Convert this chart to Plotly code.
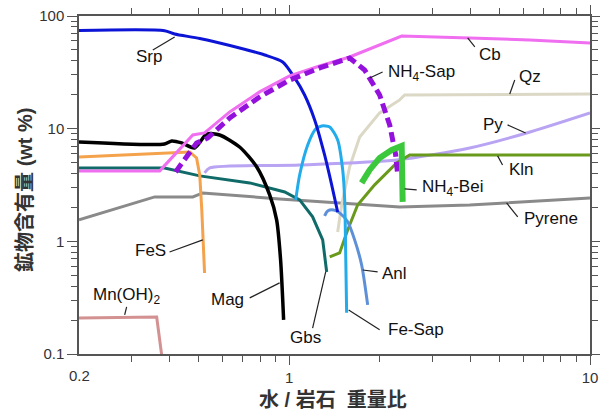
import numpy as np
import plotly.graph_objects as go

# Water/rock mass ratio (x) and mineral content in wt% (y) for each phase
srp_x = [0.2, 0.385, 0.416, 0.504, 0.684, 0.829, 0.951, 1.043, 1.125, 1.215, 1.311, 1.384, 1.449]
srp_y = [74.3, 74.0, 69.2, 63.1, 52.0, 45.1, 39.1, 28.2, 19.9, 11.95, 5.84, 3.17, 1.82]

cb_x = [0.2, 0.371, 0.478, 0.523, 0.634, 0.797, 1.003, 1.262, 1.588, 2.365, 3.98, 6.30, 10.0]
cb_y = [4.22, 4.22, 8.79, 9.16, 14.07, 21.2, 29.4, 36.0, 43.3, 66.4, 63.8, 61.2, 57.6]

nh4sap_x = [0.419, 0.492, 0.536, 0.634, 0.797, 1.003, 1.262, 1.588, 1.781, 1.998, 2.158, 2.259, 2.294]
nh4sap_y = [4.13, 7.47, 8.27, 12.45, 19.1, 27.0, 34.6, 42.4, 33.2, 19.9, 10.8, 5.84, 3.88]

qz_x = [1.449, 1.494, 1.588, 1.715, 1.998, 2.329, 2.42, 10.0]
qz_y = [1.21, 2.10, 4.57, 8.44, 13.8, 18.0, 19.9, 20.3]

py_x = [0.523, 0.544, 1.083, 2.276, 3.98, 6.16, 10.0]
py_y = [4.05, 4.48, 4.76, 5.28, 6.74, 9.16, 13.8]

kln_x = [1.363, 1.471, 1.564, 1.688, 1.923, 2.276, 2.514, 10.0]
kln_y = [0.727, 0.789, 1.26, 2.10, 3.17, 4.96, 5.84, 5.84]

nh4bei_x = [1.741, 1.851, 1.998, 2.191, 2.365, 2.383]
nh4bei_y = [3.30, 4.30, 5.50, 6.47, 7.02, 2.24]

pyrene_x = [0.2, 0.357, 0.478, 0.516, 0.929, 1.588, 2.329, 3.98, 10.0]
pyrene_y = [1.55, 2.48, 2.48, 2.69, 2.38, 2.15, 2.02, 2.10, 2.43]

mag_x = [0.2, 0.385, 0.407, 0.439, 0.485, 0.532, 0.587, 0.684, 0.780, 0.861, 0.908, 0.936, 0.958]
mag_y = [7.62, 7.31, 7.78, 7.47, 6.74, 8.97, 8.79, 6.88, 4.57, 2.58, 1.55, 0.684, 0.201]

fes_x = [0.2, 0.467, 0.492, 0.504, 0.512, 0.523]
fes_y = [5.61, 6.21, 5.50, 3.88, 1.90, 0.524]

gbs_x = [0.2, 0.385, 0.504, 0.739, 0.966, 1.083, 1.196, 1.292, 1.332]
gbs_y = [4.48, 4.48, 3.81, 3.30, 2.74, 2.33, 1.65, 1.03, 0.535]

fesap_x = [1.051, 1.083, 1.152, 1.224, 1.282, 1.363, 1.449, 1.506, 1.529, 1.540, 1.552]
fesap_y = [2.33, 3.88, 7.17, 9.94, 10.57, 10.35, 7.94, 4.30, 2.33, 0.839, 0.232]

anl_x = [1.311, 1.342, 1.405, 1.471, 1.564, 1.650, 1.741, 1.823]
anl_y = [1.68, 1.86, 1.90, 1.79, 1.49, 1.03, 0.617, 0.273]

mnoh2_x = [0.2, 0.3625, 0.3766]
mnoh2_y = [0.209, 0.213, 0.098]

x_major = [1, 10]
x_major_text = ["1", "10"]
x_minor = [0.3, 0.4, 0.5, 0.6, 0.7, 0.8, 0.9, 2, 3, 4, 5, 6, 7, 8, 9]
y_major = [0.1, 1, 10, 100]
y_major_text = ["0.1", "1", "10", "100"]
y_minor = [v * d for d in (0.1, 1, 10) for v in range(2, 10)]

# name, x, y, colour, width, dash, smooth curve
series = [
    ("Mn(OH)2", mnoh2_x, mnoh2_y, "#d39191", 3, None, False),
    ("Pyrene", pyrene_x, pyrene_y, "#8a8a8a", 3, None, False),
    ("Qz", qz_x, qz_y, "#dcd8c6", 3, None, False),
    ("Py", py_x, py_y, "#b9a3f3", 3, None, True),
    ("Gbs", gbs_x, gbs_y, "#0f6a68", 3, None, False),
    ("FeS", fes_x, fes_y, "#f4a24c", 3, None, False),
    ("Mag", mag_x, mag_y, "#000000", 3.5, None, True),
    ("Kln", kln_x, kln_y, "#6a9a1c", 3, None, False),
    ("Anl", anl_x, anl_y, "#5d90d8", 3, None, True),
    ("Fe-Sap", fesap_x, fesap_y, "#22acec", 3, None, True),
    ("Srp", srp_x, srp_y, "#0c14d6", 3, None, True),
    ("Cb", cb_x, cb_y, "#f06ef0", 3, None, False),
    ("NH4-Sap", nh4sap_x, nh4sap_y, "#9410dc", 5, "10px,5px", False),
    ("NH4-Bei", nh4bei_x, nh4bei_y, "#3cc83c", 6, None, False),
]

fig = go.Figure()
for name, xs, ys, color, width, dash, smooth in series:
    line = dict(color=color, width=width)
    if dash:
        line["dash"] = dash
    if smooth:
        line["shape"] = "spline"
        line["smoothing"] = 0.7
    fig.add_trace(go.Scatter(x=xs, y=ys, mode="lines", name=name, line=line,
                             hoverinfo="skip", showlegend=False))

# Text labels (data coordinates) and their leader lines
labels = [
    ("Srp", 0.341, 43.3, [(0.352, 49.9), (0.416, 65.1)]),
    ("Cb", 4.64, 45.1, [(3.92, 63.8), (4.14, 53.1)]),
    ("NH<sub>4</sub>-Sap", 2.756, 31.2, [(1.851, 28.2), (2.044, 31.8)]),
    ("Qz", 6.30, 28.8, [(5.41, 20.3), (5.62, 27.0)]),
    ("Py", 4.75, 11.0, [(5.32, 10.8), (6.11, 9.16)]),
    ("Kln", 5.93, 4.30, [(4.93, 5.73), (5.12, 4.76)]),
    ("NH<sub>4</sub>-Bei", 3.49, 2.98, [(2.42, 2.92), (2.653, 2.86)]),
    ("Pyrene", 7.40, 1.61, [(5.28, 2.19), (5.75, 1.65)]),
    ("FeS", 0.346, 0.822, [(0.400, 0.805), (0.516, 1.03)]),
    ("Mn(OH)<sub>2</sub>", 0.288, 0.328, [(0.2837, 0.222), (0.288, 0.262)]),
    ("Mag", 0.624, 0.302, [(0.739, 0.315), (0.929, 0.428)]),
    ("Gbs", 1.134, 0.139, [(1.196, 0.170), (1.322, 0.535)]),
    ("Anl", 2.241, 0.514, [(1.755, 0.557), (1.968, 0.535)]),
    ("Fe-Sap", 2.633, 0.164, [(1.576, 0.246), (1.998, 0.164)]),
]

label_font = dict(family="Liberation Sans, Arial, sans-serif", size=17, color="#111111")
for text, lx, ly, leader in labels:
    fig.add_trace(go.Scatter(x=[p[0] for p in leader], y=[p[1] for p in leader],
                             mode="lines", line=dict(color="#222222", width=1.2),
                             hoverinfo="skip", showlegend=False))
    fig.add_annotation(x=np.log10(lx), y=np.log10(ly), text=text, showarrow=False,
                       xanchor="center", yanchor="middle", font=label_font)

tick_font = dict(family="Liberation Sans, Arial, sans-serif", size=15, color="#333333")
axis_color = "#555555"

fig.update_xaxes(
    type="log", range=[np.log10(0.2), 1], tickvals=x_major, ticktext=x_major_text,
    ticks="outside", ticklen=9, tickwidth=1.3, tickcolor=axis_color,
    minor=dict(tickmode="array", tickvals=x_minor, ticks="outside", ticklen=6,
               tickwidth=1.2, tickcolor=axis_color, showgrid=False),
    showline=True, linecolor=axis_color, linewidth=1.5, mirror="allticks",
    showgrid=False, zeroline=False, tickfont=tick_font, automargin=False,
)
fig.update_yaxes(
    type="log", range=[-1, 2], tickvals=y_major, ticktext=y_major_text,
    ticks="outside", ticklen=10, tickwidth=1.3, tickcolor=axis_color,
    minor=dict(tickmode="array", tickvals=y_minor, ticks="outside", ticklen=6,
               tickwidth=1.2, tickcolor=axis_color, showgrid=False),
    showline=True, linecolor=axis_color, linewidth=1.5, mirror="allticks",
    showgrid=False, zeroline=False, tickfont=tick_font, automargin=False,
)

# Leftmost x tick label sits on the frame corner
fig.add_annotation(x=np.log10(0.2), y=0, xref="x", yref="paper", text="0.2",
                   showarrow=False, xanchor="center", yanchor="top", yshift=-11,
                   font=tick_font)

title_font = dict(family="Liberation Sans, Noto Sans CJK JP, sans-serif", size=20,
                  color="#333333")
fig.add_annotation(x=-0.106, y=0.485, xref="paper", yref="paper",
                   text="<b>鉱物含有量 (wt %)</b>", textangle=-90, showarrow=False,
                   xanchor="center", yanchor="middle", font=title_font)
fig.add_annotation(x=0.497, y=-0.136, xref="paper", yref="paper",
                   text="<b>水 / 岩石  重量比</b>", showarrow=False,
                   xanchor="center", yanchor="middle", font=title_font)

fig.update_layout(
    width=600, height=412,
    margin=dict(l=79, r=10, t=16, b=58, autoexpand=False),
    paper_bgcolor="white", plot_bgcolor="white",
    showlegend=False,
)

fig.write_html("out.html")
